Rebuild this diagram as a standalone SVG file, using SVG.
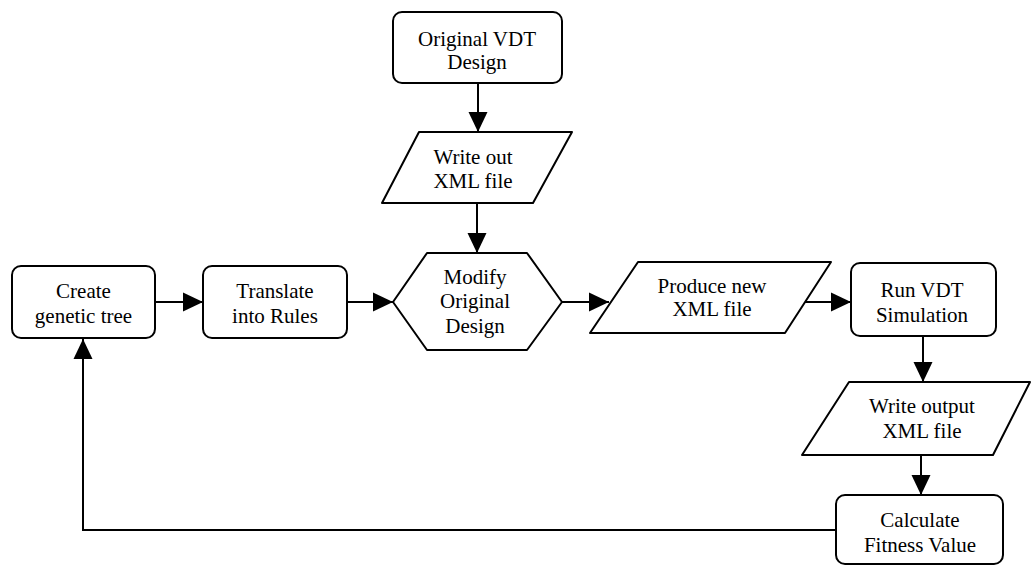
<svg xmlns="http://www.w3.org/2000/svg" width="1031" height="566" viewBox="0 0 1031 566">
  <style>
    .shape { fill: #ffffff; stroke: #000000; stroke-width: 2; stroke-linejoin: round; }
    .edge { fill: none; stroke: #000000; stroke-width: 2; }
    .label { font-family: "Liberation Serif", "Times New Roman", serif; font-size: 21px; fill: #000000; text-anchor: middle; }
  </style>
  <defs>
    <marker id="arrow" markerUnits="userSpaceOnUse" markerWidth="20" markerHeight="20" viewBox="0 0 20 20" refX="20" refY="10" orient="auto">
      <path d="M0,0.5 L20,10 L0,19.5 Z" fill="#000000"/>
    </marker>
  </defs>
  <rect width="1031" height="566" fill="#ffffff"/>

  <!-- connectors -->
  <g id="connectors">
    <line class="edge" x1="478" y1="83" x2="478" y2="132" marker-end="url(#arrow)"/>
    <line class="edge" x1="477" y1="203" x2="477" y2="253" marker-end="url(#arrow)"/>
    <line class="edge" x1="155" y1="302" x2="203" y2="302" marker-end="url(#arrow)"/>
    <line class="edge" x1="347" y1="302" x2="393" y2="302" marker-end="url(#arrow)"/>
    <line class="edge" x1="562" y1="302" x2="609" y2="302" marker-end="url(#arrow)"/>
    <line class="edge" x1="805" y1="302" x2="851" y2="302" marker-end="url(#arrow)"/>
    <line class="edge" x1="923" y1="336" x2="923" y2="382" marker-end="url(#arrow)"/>
    <line class="edge" x1="921" y1="455" x2="921" y2="495" marker-end="url(#arrow)"/>
    <polyline class="edge" points="836,530 83,530 83,339" marker-end="url(#arrow)"/>
  </g>

  <!-- nodes -->
  <g id="original-design">
    <rect class="shape" x="393" y="12" width="169" height="71" rx="9"/>
    <text class="label" x="477" y="46">Original VDT</text>
    <text class="label" x="477" y="69">Design</text>
  </g>

  <g id="write-out-xml">
    <polygon class="shape" points="419,132 572,132 533,203 382,203"/>
    <text class="label" x="473" y="164">Write out</text>
    <text class="label" x="473" y="188">XML file</text>
  </g>

  <g id="create-tree">
    <rect class="shape" x="12" y="266" width="143" height="72" rx="9"/>
    <text class="label" x="83.5" y="298">Create</text>
    <text class="label" x="83.5" y="323">genetic tree</text>
  </g>

  <g id="translate-rules">
    <rect class="shape" x="203" y="266" width="144" height="72" rx="9"/>
    <text class="label" x="275" y="298">Translate</text>
    <text class="label" x="275" y="323">into Rules</text>
  </g>

  <g id="modify-design">
    <polygon class="shape" points="427,253 527,253 562,302 527,350 427,350 393,302"/>
    <text class="label" x="475" y="284">Modify</text>
    <text class="label" x="475" y="308">Original</text>
    <text class="label" x="475" y="333">Design</text>
  </g>

  <g id="produce-xml">
    <polygon class="shape" points="638,262 831,262 785,333 590,333"/>
    <text class="label" x="712" y="293">Produce new</text>
    <text class="label" x="712" y="316">XML file</text>
  </g>

  <g id="run-simulation">
    <rect class="shape" x="851" y="263" width="145" height="73" rx="9"/>
    <text class="label" x="922" y="297">Run VDT</text>
    <text class="label" x="922" y="322">Simulation</text>
  </g>

  <g id="write-output-xml">
    <polygon class="shape" points="849,382 1030,382 993,455 802,455"/>
    <text class="label" x="922" y="413">Write output</text>
    <text class="label" x="922" y="438">XML file</text>
  </g>

  <g id="calculate-fitness">
    <rect class="shape" x="836" y="495" width="167" height="69" rx="9"/>
    <text class="label" x="920" y="527">Calculate</text>
    <text class="label" x="920" y="552">Fitness Value</text>
  </g>
</svg>
